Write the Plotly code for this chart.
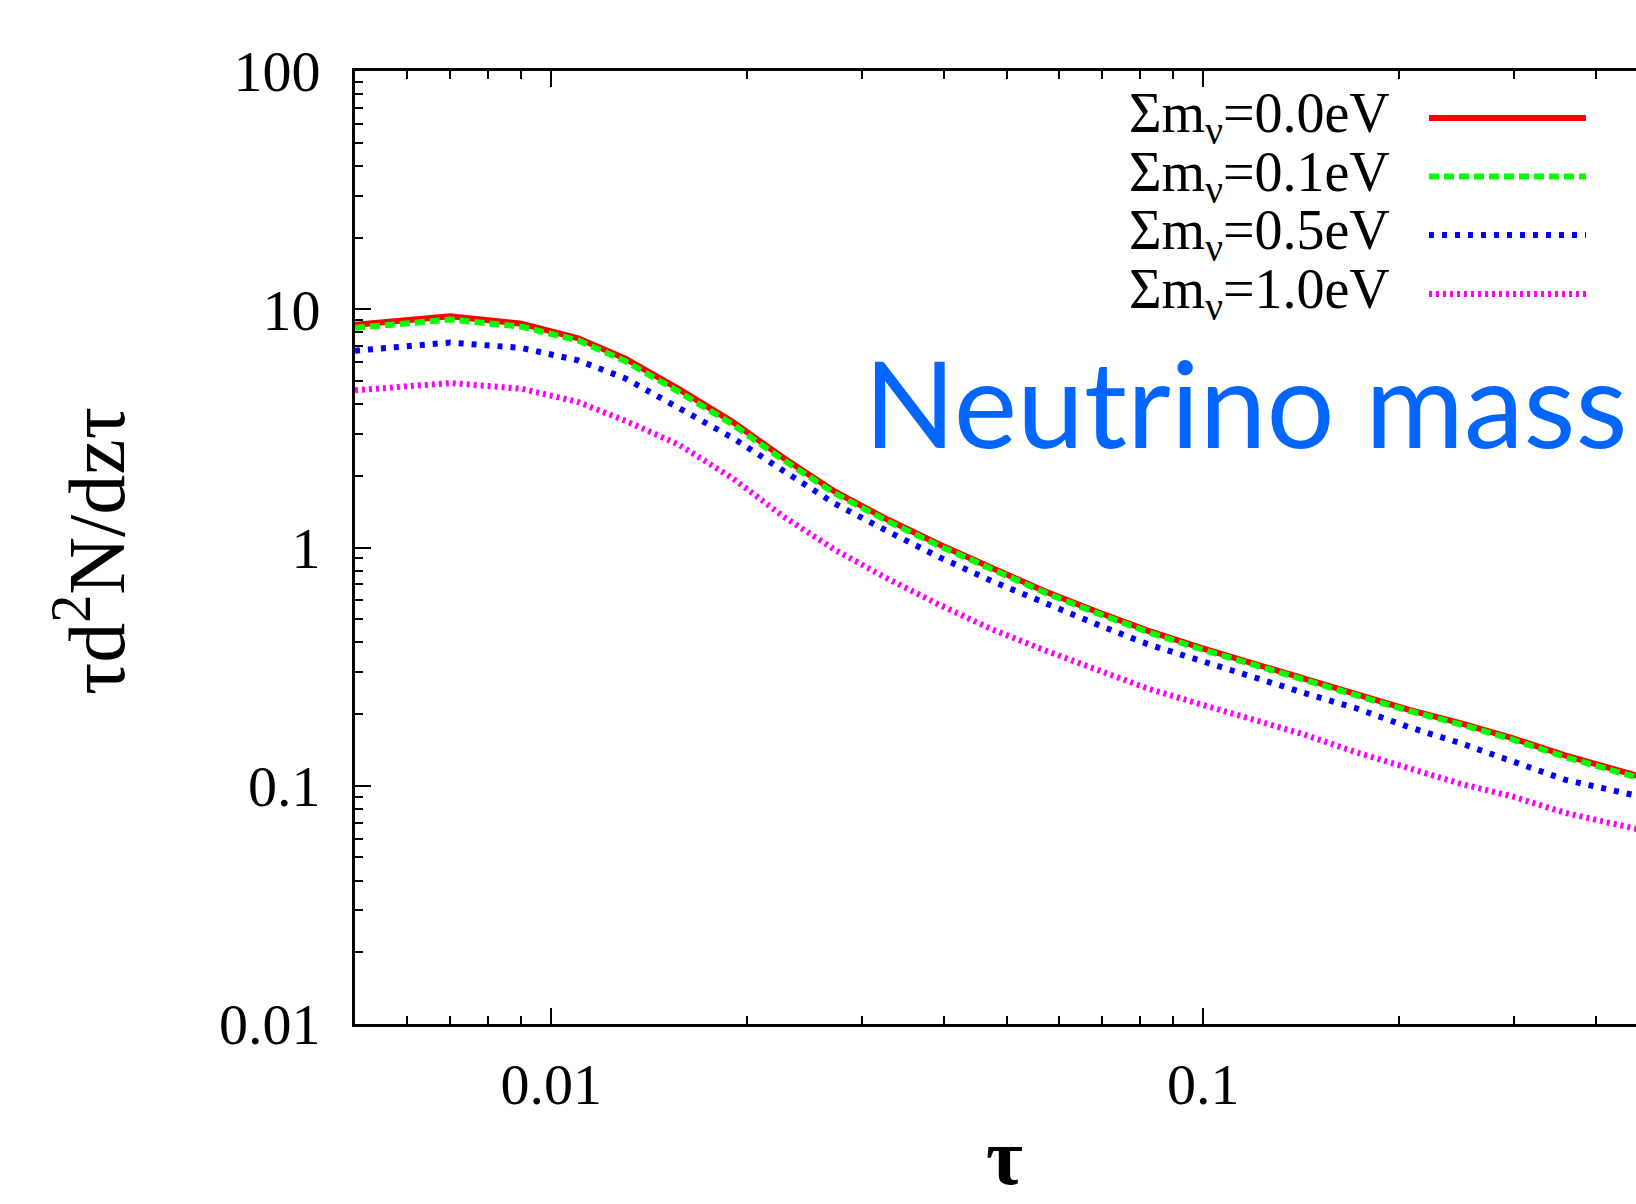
import plotly.graph_objects as go

# ---------------- data ----------------
tau = [0.005, 0.007, 0.009, 0.011, 0.013, 0.0157, 0.019, 0.0227, 0.0272, 0.0328,
       0.0394, 0.0473, 0.0569, 0.0684, 0.0822, 0.099, 0.119, 0.143, 0.172, 0.207,
       0.248, 0.299, 0.359, 0.461, 0.5]

m00 = [8.6, 9.35, 8.7, 7.55, 6.2, 4.62, 3.36, 2.38, 1.72, 1.31,
       1.03, 0.82, 0.658, 0.54, 0.448, 0.38, 0.326, 0.28, 0.24, 0.208,
       0.183, 0.158, 0.134, 0.111, 0.104]
m01 = [8.35, 9.05, 8.45, 7.4, 6.05, 4.5, 3.28, 2.33, 1.69, 1.29,
       1.015, 0.81, 0.65, 0.533, 0.442, 0.375, 0.322, 0.277, 0.237, 0.206,
       0.181, 0.156, 0.132, 0.109, 0.102]
m05 = [6.7, 7.25, 6.88, 6.1, 5.12, 3.83, 2.88, 2.1, 1.53, 1.17,
       0.91, 0.725, 0.585, 0.478, 0.393, 0.334, 0.286, 0.245, 0.211, 0.176,
       0.151, 0.126, 0.106, 0.091, 0.087]
m10 = [4.57, 4.9, 4.64, 4.08, 3.4, 2.7, 1.95, 1.35, 0.98, 0.74,
       0.575, 0.455, 0.372, 0.307, 0.256, 0.22, 0.19, 0.164, 0.138, 0.119,
       0.102, 0.09, 0.077, 0.066, 0.062]

series_labels = ["Σm<sub>ν</sub>=0.0eV", "Σm<sub>ν</sub>=0.1eV",
                 "Σm<sub>ν</sub>=0.5eV", "Σm<sub>ν</sub>=1.0eV"]
x_tickvals = [0.01, 0.1]
x_ticktext = ["0.01", "0.1"]
y_tickvals = [0.01, 0.1, 1, 10, 100]
y_ticktext = ["0.01", "0.1", "1", "10", "100"]

# ---------------- styles ----------------
colors = ["#ff0000", "#00ff00", "#0000ff", "#ff00ff"]
dashes = ["solid", "10px,5px", "5px,8px", "3px,4px"]
widths = [6, 6, 6, 6]

W, H = 1636, 1204
L, R, T, B = 355, 0, 71, 180
PW, PH = W - L - R, H - T - B


def px(x):
    return (x - L) / PW


def py(y):
    return (H - B - y) / PH


fig = go.Figure()
for ys, c, d, w in zip([m00, m01, m05, m10], colors, dashes, widths):
    fig.add_trace(go.Scatter(x=tau, y=ys, mode="lines",
                             line=dict(color=c, dash=d, width=w),
                             showlegend=False, hoverinfo="skip"))

minor_vals = [k * 10.0 ** e for e in range(-3, 3) for k in range(2, 10)]

serif = "Liberation Serif"
fig.update_xaxes(type="log", range=[-2.30103, -0.336], showline=True, linewidth=3,
                 linecolor="black", mirror="ticks", ticks="inside", ticklen=16,
                 tickwidth=2, tickcolor="black", tickmode="array",
                 tickvals=x_tickvals, ticktext=x_ticktext,
                 minor=dict(ticks="inside", ticklen=8, tickwidth=2, tickcolor="black",
                            tickmode="array", tickvals=minor_vals),
                 showgrid=False, zeroline=False,
                 tickfont=dict(family=serif, size=58, color="black"),
                 ticklabelstandoff=7)
fig.update_yaxes(type="log", range=[-2, 2], showline=True, linewidth=3,
                 linecolor="black", mirror=False, ticks="inside", ticklen=16,
                 tickwidth=2, tickcolor="black", tickmode="array",
                 tickvals=y_tickvals, ticktext=y_ticktext,
                 minor=dict(ticks="inside", ticklen=8, tickwidth=2, tickcolor="black",
                            tickmode="array", tickvals=minor_vals),
                 showgrid=False, zeroline=False,
                 tickfont=dict(family=serif, size=58, color="black"),
                 ticklabelstandoff=20)

annotations = []
# axis titles
annotations.append(dict(text="τd<sup>2</sup>N/dzτ", textangle=-90, x=px(90), y=py(551),
                        xref="paper", yref="paper", xanchor="center", yanchor="middle",
                        showarrow=False, font=dict(family=serif, size=80, color="black")))
annotations.append(dict(text="<b>τ</b>", x=px(1004), y=py(1203),
                        xref="paper", yref="paper", xanchor="center", yanchor="bottom",
                        showarrow=False, font=dict(family=serif, size=80, color="black")))
# big label
annotations.append(dict(text="Neutrino mass", x=px(862), y=py(402),
                        xref="paper", yref="paper", xanchor="left", yanchor="middle",
                        showarrow=False, font=dict(family="Lato", size=120, color="#0066ff")))

# legend
leg_line_y = [118, 176.5, 235, 294]
shapes = []
for lab, c, d, yy in zip(series_labels, colors, dashes, leg_line_y):
    annotations.append(dict(text=lab, x=px(1392), y=py(yy - 1), xref="paper", yref="paper",
                            xanchor="right", yanchor="middle", showarrow=False,
                            font=dict(family=serif, size=56, color="black")))
    shapes.append(dict(type="line", xref="paper", yref="paper", x0=px(1429), x1=px(1586),
                       y0=py(yy), y1=py(yy), line=dict(color=c, dash=d, width=6)))

fig.update_layout(width=W, height=H, margin=dict(l=L, r=R, t=T, b=B, pad=0),
                  paper_bgcolor="white", plot_bgcolor="white",
                  annotations=annotations, shapes=shapes, showlegend=False)

fig.write_html("out.html")
